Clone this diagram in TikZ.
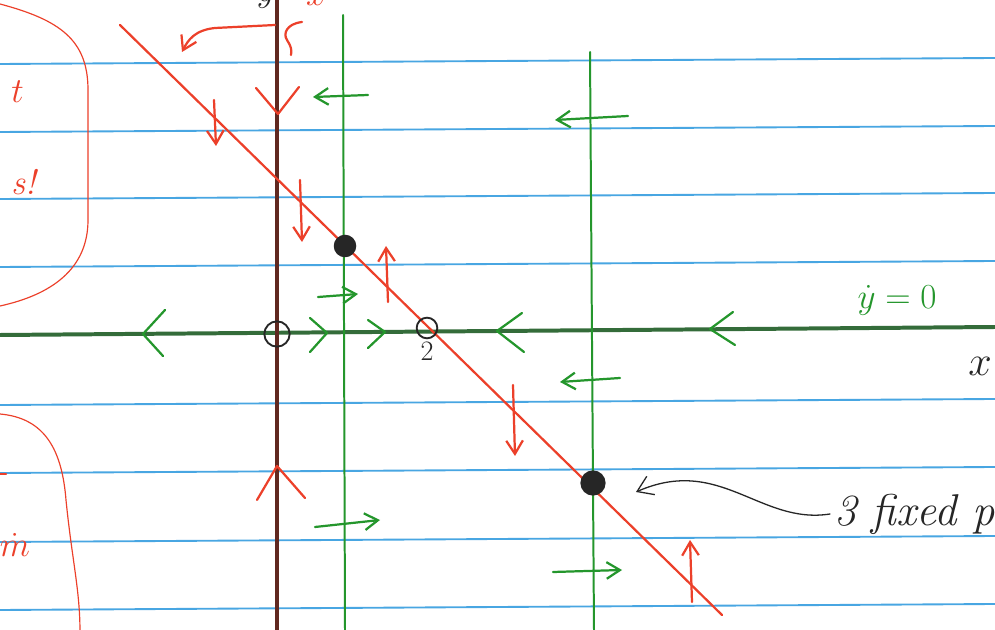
\RequirePackage{fix-cm}
\documentclass[tikz,border=0pt]{standalone}
\usepackage{amsmath,amssymb}
\usetikzlibrary{arrows.meta}
\definecolor{penred}{RGB}{236,64,42}
\definecolor{pengreen}{RGB}{36,150,44}
\definecolor{axisgreen}{RGB}{52,108,58}
\definecolor{ruleblue}{RGB}{72,166,226}
\definecolor{axisbrown}{RGB}{96,40,32}
\definecolor{pencil}{RGB}{38,38,38}
\begin{document}
\begin{tikzpicture}[x=0.3mm,y=-0.3mm,line cap=round,line join=round,
  ruled/.style={ruleblue,line width=1.6pt},
  redpen/.style={penred,line width=1.9pt},
  greenpen/.style={pengreen,line width=1.9pt},
  redarrow/.style={redpen,-{Straight Barb[length=4mm,width=5mm]}},
  greenarrow/.style={greenpen,-{Straight Barb[length=4mm,width=5mm]}},
  fixedopen/.style={circle,draw=pencil,line width=1.6pt,inner sep=0pt,minimum size=7.6mm},
  fixedfull/.style={circle,draw=pencil,fill=pencil,line width=1.6pt,inner sep=0pt,minimum size=6.2mm},
  hand/.style={font=\fontsize{30}{36}\selectfont\itshape}]
\useasboundingbox (0,0) rectangle (995,630);
\clip (0,0) rectangle (995,630);
\fill[white] (0,0) rectangle (995,630);
\foreach \r in {64,132,199,267,405,473,542,610}
  \draw[ruled] (0,\r) -- (995,\r-6);
\draw[redpen,line width=1pt] (0,4) .. controls (60,20) and (88,40) .. (88,90)
  -- (88,220) .. controls (88,270) and (50,295) .. (0,306);
\draw[redpen,line width=1pt] (0,414) .. controls (45,418) and (62,450) .. (66,500)
  .. controls (72,560) and (80,590) .. (80,632);
\node[penred,hand,anchor=east] at (28,92) {$t$};
\node[penred,hand,anchor=east] at (40,182) {s!};
\draw[redpen] (0,474) -- (6,474);
\node[penred,hand,anchor=east] at (34,545) {$\dot{m}$};
\draw[axisgreen,line width=3.4pt] (0,335) -- (995,327);
\draw[pengreen,line width=1.7pt] (343,15) -- (345,630);
\draw[pengreen,line width=1.7pt] (590,52) -- (594,630);
\draw[axisbrown,line width=3pt] (277,0) -- (277,630);
\draw[redpen] (120,25) -- (722,615);
\node[pencil,hand,anchor=south] at (266,12) {$y$};
\node[penred,hand,anchor=south] at (316,10) {$x$};
\draw[redarrow] (275,25) -- (215,28) .. controls (195,30) and (188,40) .. (182,52);
\draw[redpen] (302,22) .. controls (286,24) and (283,34) .. (287,40)
  .. controls (291,46) and (292,50) .. (291,55);
\draw[redpen] (256,88) -- (278,114) -- (299,87);
\draw[redpen] (257,500) -- (277,466) -- (305,498);
\draw[redarrow] (214,100) -- (216,146);
\draw[redarrow] (300,180) -- (302,242);
\draw[redarrow] (513,385) -- (515,456);
\draw[redarrow] (388,302) -- (386,246);
\draw[redarrow] (692,602) -- (690,540);
\draw[greenpen] (165,310) -- (143,334) -- (163,356);
\draw[greenpen] (310,318) -- (327,333) -- (310,352);
\draw[greenpen] (368,320) -- (385,332) -- (368,348);
\draw[greenpen] (522,313) -- (497,331) -- (524,352);
\draw[greenpen] (733,312) -- (710,329) -- (735,345);
\draw[greenarrow] (368,95) -- (313,97);
\draw[greenarrow] (628,116) -- (555,120);
\draw[greenarrow] (318,297) -- (358,294);
\draw[greenarrow] (620,378) -- (560,382);
\draw[greenarrow] (315,527) -- (380,520);
\draw[greenarrow] (553,572) -- (622,570);
\node[fixedopen] (origin) at (277,334) {};
\node[fixedfull] (upper) at (345,246) {};
\node[fixedopen,minimum size=6.2mm] (two) at (427,328) {};
\node[pencil,font=\fontsize{24}{28}\selectfont,below=-0.5mm] at (two.south) {2};
\node[fixedfull,minimum size=7mm] (lower) at (593,483) {};
\node[pengreen,hand] at (897,300) {$\dot{y}=0$};
\node[pencil,hand,font=\fontsize{36}{40}\selectfont\itshape] at (980,366) {$x$};
\node[pencil,hand,font=\fontsize{38}{44}\selectfont\itshape,anchor=west] (note) at (830,514) {3 fixed points};
\draw[pencil,line width=1.1pt,-{Straight Barb[length=4.5mm,width=6mm]}]
  (note.west) .. controls (760,525) and (720,455) .. (636,492);
\end{tikzpicture}
\end{document}
